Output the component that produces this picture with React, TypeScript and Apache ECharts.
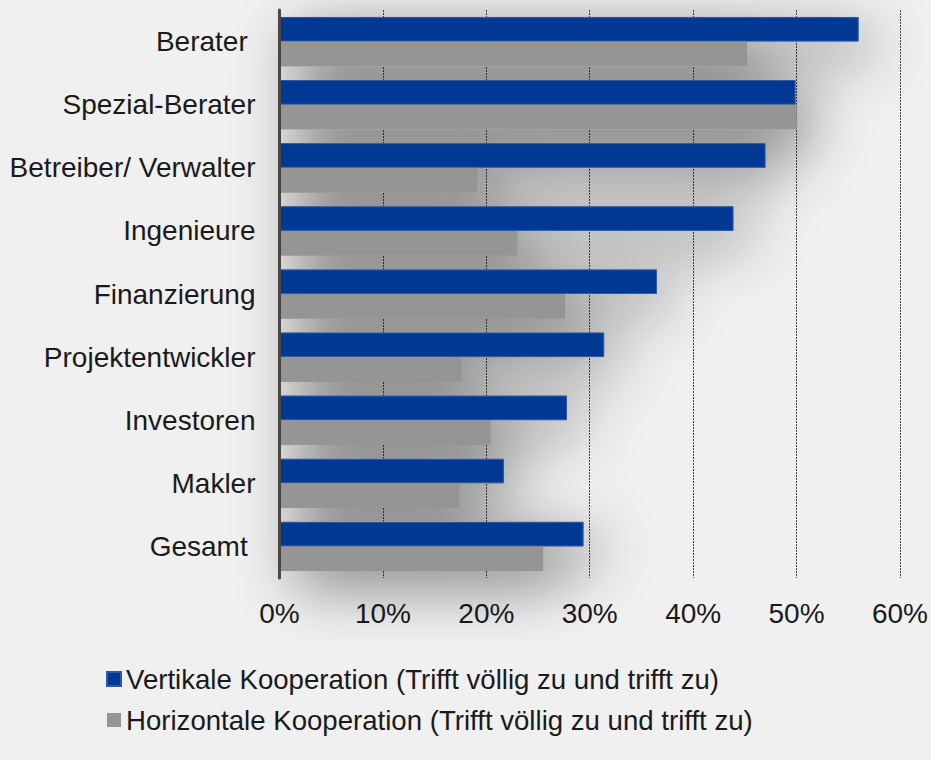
import React, { useEffect, useRef } from "react";
import * as echarts from "echarts";

const categories = [
  "Berater ",
  "Spezial-Berater",
  "Betreiber/ Verwalter",
  "Ingenieure",
  "Finanzierung",
  "Projektentwickler",
  "Investoren",
  "Makler",
  "Gesamt ",
];
const vertikal = [56.0, 49.9, 47.0, 43.9, 36.5, 31.4, 27.8, 21.7, 29.4];
const horizontal = [45.2, 50.0, 19.2, 23.0, 27.6, 17.6, 20.4, 17.4, 25.5];
const seriesNames = [
  "Vertikale Kooperation (Trifft völlig zu und trifft zu)",
  "Horizontale Kooperation (Trifft völlig zu und trifft zu)",
];

const FONT = "'Liberation Sans', Arial, Helvetica, sans-serif";
const CAT_GAP = 0.22;

export default function App() {
  const ref = useRef<HTMLDivElement>(null);
  useEffect(() => {
    if (!ref.current) return;
    const chart = echarts.init(ref.current, undefined, { renderer: "svg" });

    // one polygon = union of all bars, used only to cast a soft drop shadow
    const renderShadow = (params: any, api: any) => {
      const band = api.size([0, 1])[1];
      const half = (band * (1 - CAT_GAP)) / 2;
      const x0 = api.coord([0, 0])[0];
      const n = categories.length;
      const pts: number[][] = [];
      const firstTop = api.coord([0, 0])[1] - half;
      const lastBot = api.coord([0, n - 1])[1] + half;
      // zero-area spikes widen the bounding box so the blur is not clipped
      pts.push([x0, firstTop - 200], [x0, firstTop]);
      pts.push([x0 + 900, firstTop], [x0, firstTop]);
      for (let i = 0; i < n; i++) {
        const cy = api.coord([0, i])[1];
        const top = cy - half;
        const bot = cy + half;
        const xv = api.coord([vertikal[i], i])[0];
        const xh = api.coord([horizontal[i], i])[0];
        pts.push([x0, top], [xv, top], [xv, cy], [xh, cy], [xh, bot], [x0, bot]);
      }
      pts.push([x0, lastBot + 250], [x0, lastBot]);
      return {
        type: "polygon",
        shape: { points: pts },
        style: {
          fill: "#8a8a8a",
          shadowBlur: 60,
          shadowColor: "rgba(0,0,0,0.48)",
          shadowOffsetX: 16,
          shadowOffsetY: 15,
        },
        silent: true,
      };
    };

    chart.setOption({
      animation: false,
      backgroundColor: "#f0f0f0",
      textStyle: { fontFamily: FONT },
      grid: { left: 279.5, right: 31, top: 10, bottom: 182, containLabel: false },
      legend: {
        orient: "vertical",
        left: 101,
        top: 660,
        itemWidth: 14,
        itemHeight: 14,
        itemGap: 13,
        icon: "rect",
        textStyle: { fontSize: 27.6, color: "#1a1a1a", fontFamily: FONT },
        data: seriesNames,
      },
      xAxis: {
        type: "value",
        min: 0,
        max: 60,
        interval: 10,
        axisLine: { show: false },
        axisTick: { show: false },
        axisLabel: {
          formatter: "{value}%",
          fontSize: 28,
          color: "#1a1a1a",
          margin: 21,
          fontFamily: FONT,
        },
        splitLine: {
          show: true,
          lineStyle: { type: [2, 1], color: "#444", width: 1 },
        },
      },
      yAxis: {
        type: "category",
        inverse: true,
        data: categories,
        z: 5,
        axisLine: { show: true, lineStyle: { color: "#4a4643", width: 3 } },
        axisTick: { show: false },
        axisLabel: {
          fontSize: 28,
          color: "#1a1a1a",
          margin: 24,
          fontFamily: FONT,
        },
      },
      series: [
        {
          name: "shadow",
          type: "custom",
          z: 1,
          silent: true,
          clip: false,
          data: [[0, 0]],
          renderItem: renderShadow,
        },
        {
          name: seriesNames[0],
          type: "bar",
          z: 2,
          data: vertikal,
          barGap: "0%",
          barCategoryGap: "22%",
          itemStyle: { color: "#003893", borderColor: "#2d5aa5", borderWidth: 1 },
        },
        {
          name: seriesNames[1],
          type: "bar",
          z: 2,
          data: horizontal,
          barGap: "0%",
          barCategoryGap: "22%",
          itemStyle: { color: "#979593" },
        },
      ],
    });
    return () => chart.dispose();
  }, []);
  return (
    <div
      ref={ref}
      style={{ position: "fixed", left: 0, top: 0, width: 931, height: 760 }}
    />
  );
}
